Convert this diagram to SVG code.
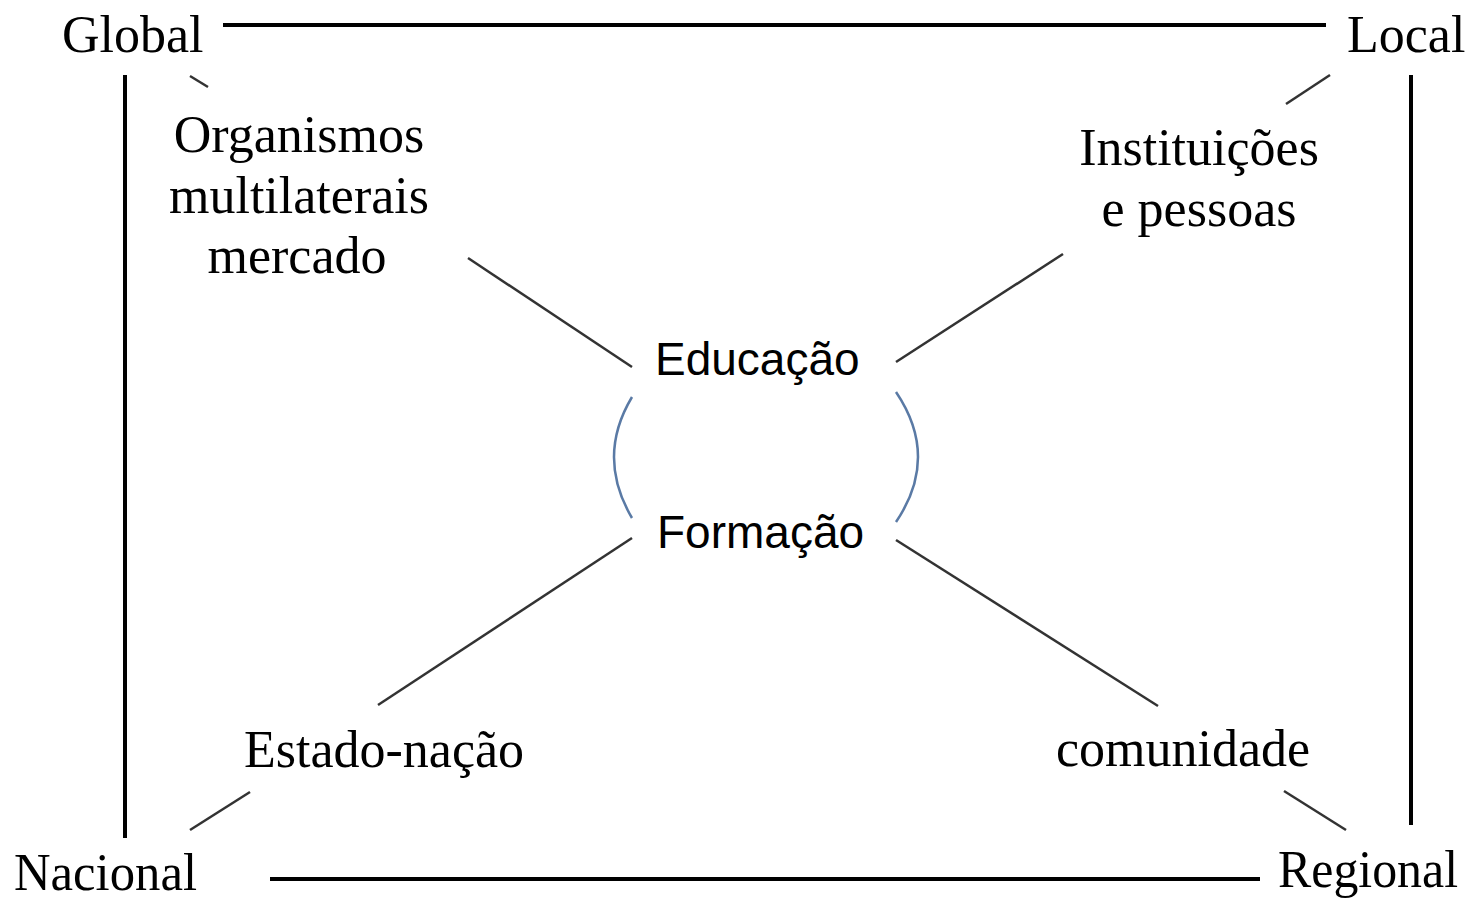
<svg xmlns="http://www.w3.org/2000/svg" width="1467" height="901" viewBox="0 0 1467 901">
<style>
.t{font-family:"Liberation Serif","Times New Roman",serif;font-size:52px;fill:#000}
.s{font-family:"Liberation Sans",Arial,sans-serif;font-size:46px;fill:#000}
.frame{stroke:#000;stroke-width:4;fill:none}
.d{stroke:#333;stroke-width:2.5;fill:none}
.arc{stroke:#5a7aa5;stroke-width:2.5;fill:none}
</style>
<rect width="1467" height="901" fill="#fff"/>
<g id="connectors">
<line class="frame" x1="223" y1="25" x2="1326" y2="25"/>
<line class="frame" x1="270" y1="879" x2="1260" y2="879"/>
<line class="frame" x1="125" y1="75" x2="125" y2="838"/>
<line class="frame" x1="1411" y1="75" x2="1411" y2="825"/>
<line class="d" x1="190" y1="76" x2="208" y2="87"/>
<line class="d" x1="1286" y1="104" x2="1330" y2="75"/>
<line class="d" x1="250" y1="792" x2="190" y2="830"/>
<line class="d" x1="1284" y1="791" x2="1346" y2="830"/>
<line class="d" x1="468" y1="258" x2="632" y2="367"/>
<line class="d" x1="896" y1="362" x2="1063" y2="254"/>
<line class="d" x1="632" y1="538" x2="378" y2="705"/>
<line class="d" x1="896" y1="540" x2="1158" y2="706"/>
<path class="arc" d="M632,397 Q596,457 632,518"/>
<path class="arc" d="M896,392 Q940,457 896,522"/>
</g>
<g id="global"><text class="t" x="62" y="52">Global</text></g>
<g id="local"><text class="t" x="1347" y="52">Local</text></g>
<g id="nacional"><text class="t" x="14" y="890" textLength="183" lengthAdjust="spacingAndGlyphs">Nacional</text></g>
<g id="regional"><text class="t" x="1278" y="887" textLength="180" lengthAdjust="spacingAndGlyphs">Regional</text></g>
<g id="organismos"><text class="t" text-anchor="middle" x="299"><tspan x="299" y="152">Organismos</tspan><tspan x="299" y="213">multilaterais</tspan><tspan x="297" y="273">mercado</tspan></text></g>
<g id="instituicoes"><text class="t" text-anchor="middle"><tspan x="1199" y="165">Instituições</tspan><tspan x="1199" y="226">e pessoas</tspan></text></g>
<g id="estado"><text class="t" x="244" y="767">Estado-nação</text></g>
<g id="comunidade"><text class="t" x="1056" y="766">comunidade</text></g>
<g id="educacao"><text class="s" x="655" y="375">Educação</text></g>
<g id="formacao"><text class="s" x="657" y="548">Formação</text></g>
</svg>
